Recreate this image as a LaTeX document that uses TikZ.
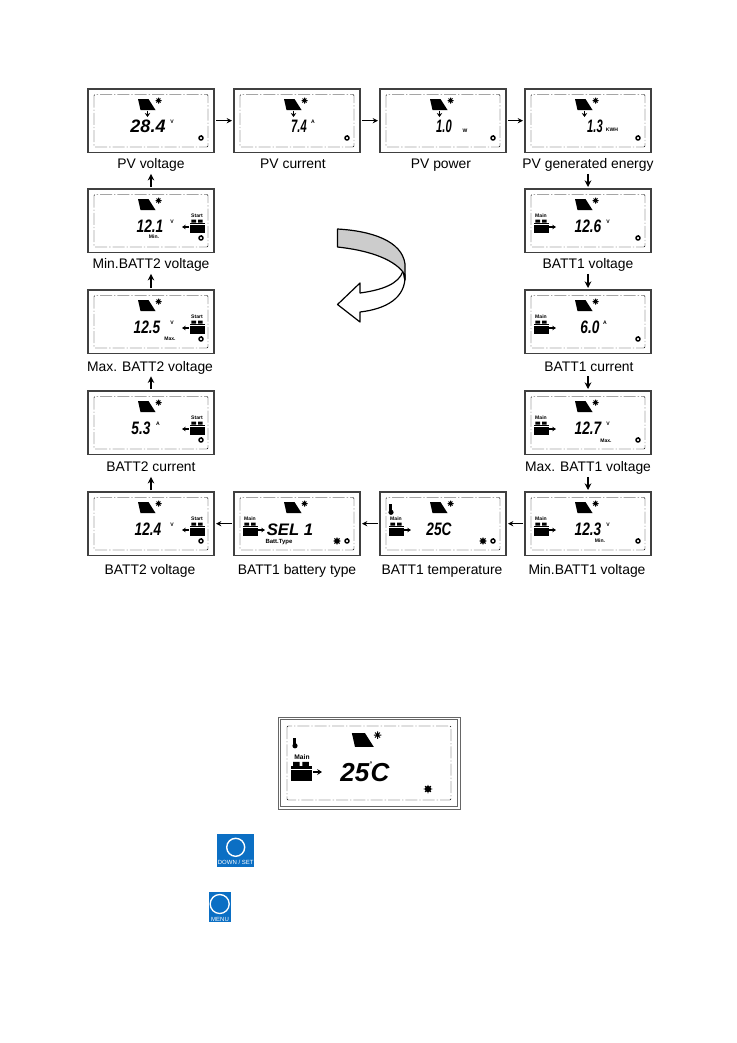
\documentclass[tikz,border=0pt]{standalone}
\usepackage{fontspec}
\setmainfont{Liberation Sans}
\newfontfamily\lcdmid{Liberation Sans}[FakeStretch=.76]
\newfontfamily\lcdthin{Liberation Sans}[FakeStretch=.62]
\usetikzlibrary{arrows.meta}
\definecolor{btnblue}{HTML}{0B6FC4}
\definecolor{lcdedge}{gray}{0.25}
\definecolor{bandgray}{gray}{0.8}
\tikzset{
  lcdbox/.style={draw=lcdedge,line width=1.25pt,minimum width=94.5pt,minimum height=47.5pt,inner sep=0,outer sep=0,anchor=north west},
  lcdframe/.style={draw=black,line width=.35pt,rounded corners=.8pt,dash pattern=on 9pt off 1.5pt on 1pt off 1.5pt},
  caption/.style={font=\fontsize{10.4}{12}\selectfont,inner sep=0,outer sep=0,anchor=base,text height=8pt,text depth=2.5pt},
  reading/.style={font=\fontsize{13.5}{14}\selectfont\bfseries\itshape,inner sep=0,anchor=center},
  readmid/.style={font=\fontsize{13.5}{14}\selectfont\lcdmid\bfseries\itshape,inner sep=0,anchor=center},
  readthin/.style={font=\fontsize{13.5}{14}\selectfont\lcdthin\bfseries\itshape,inner sep=0,anchor=center},
  unit/.style={font=\fontsize{3.8}{4}\selectfont\bfseries,inner sep=0,anchor=center},
  tag/.style={font=\fontsize{3.8}{4}\selectfont\bfseries,inner sep=0,anchor=center},
  flow/.style={-{Stealth[length=5pt,width=5pt]},line width=.95pt,shorten >=1.5pt,shorten <=1.5pt},
  flowh/.style={-{Stealth[length=4pt,width=4pt]},line width=.85pt,shorten >=1.5pt,shorten <=1.5pt},
  pics/panel/.style={code={
    \fill (-8.5,-5.5) -- (2,-5.5) -- (9,5.5) -- (-6,5.5) -- cycle;
    \draw[line width=.75pt] (12,-7) -- (12,-1) (9,-4) -- (15,-4) (10,-6) -- (14,-2) (10,-2) -- (14,-6);
  }},
  pics/downtick/.style={code={
    \draw[-{Stealth[length=3pt,width=4pt]},line width=.8pt] (0,-3.5) -- (0,3);
  }},
  pics/loadmark/.style={code={
    \draw[line width=1.1pt] (0,0) circle (2);
    \draw[line width=.6pt] (0,-2.9) -- (0,-2);
  }},
  pics/gearmark/.style={code={
    \fill (0,0) circle (2.8);
    \draw[line width=.6pt] (-3.7,0) -- (3.7,0) (0,-3.7) -- (0,3.7) (-2.6,-2.6) -- (2.6,2.6) (-2.6,2.6) -- (2.6,-2.6);
  }},
  pics/therm/.style={code={
    \fill (0,2.8) circle (2.6);
    \fill (-1.9,-5.5) rectangle (1.3,2.5);
  }},
  pics/cell/.style={code={
    \fill (-7.5,-3.5) rectangle (7.5,7);
    \fill (-5.7,-6.5) rectangle (-1,-3.5) (1,-6.5) rectangle (5.7,-3.5);
    \fill[white] (-7.5,-1.6) rectangle (7.5,-.8);
  }}
}
\newcommand{\lcd}[4]{%
  \node[lcdbox] (#1) at (#2,#3) {};
  \begin{scope}[shift={(#2,#3)}]
    \draw[lcdframe] (6,5.5) rectangle (120,58);
    \pic at (58.5,15.5) {panel};
    \pic at (113,49) {loadmark};
    #4
  \end{scope}}
\newcommand{\mainbatt}[1]{%
  \node[tag] (#1t) at (16,27) {Main};
  \pic at (16,37) {cell};
  \draw[-{Stealth[length=2.8pt,width=3.4pt]},line width=.8pt] (24,38) -- (31,38);}
\newcommand{\startbatt}[1]{%
  \node[tag] (#1t) at (109,27) {Start};
  \pic at (109,37) {cell};
  \draw[-{Stealth[length=2.8pt,width=3.4pt]},line width=.8pt] (101,38) -- (94,38);}
\begin{document}
\begin{tikzpicture}[x=.75pt,y=-.75pt]
\useasboundingbox[fill=white] (0,0) rectangle (737,1043);

% top row
\lcd{a}{88}{89}{\pic at (59.5,25) {downtick};
  \node[reading] (ar) at (60,37.5) {28.4}; \node[unit] (au) at (84,33) {V};}
\lcd{b}{234}{89}{\pic at (59.5,25) {downtick};
  \node[readthin] (br) at (65,37.5) {7.4}; \node[unit] (bu) at (79,33) {A};}
\lcd{c}{380}{89}{\pic at (59.5,25) {downtick};
  \node[readthin] (cr) at (64,37.5) {1.0}; \node[unit] (cu) at (85,42) {W};}
\lcd{d}{525}{89}{\pic at (59.5,25) {downtick};
  \node[readthin] (dr) at (70,37.5) {1.3}; \node[unit] (du) at (87,41) {KWH};}
% left column
\lcd{l1}{88}{189}{\node[readmid] (l1r) at (62,37.5) {12.1}; \node[unit] (l1u) at (84,33) {V};
  \node[tag] (l1m) at (66,48) {Min.}; \startbatt{l1}}
\lcd{l2}{88}{290}{\node[readmid] (l2r) at (59,37.5) {12.5}; \node[unit] (l2u) at (84,33) {V};
  \node[tag] (l2m) at (82,49) {Max.}; \startbatt{l2}}
\lcd{l3}{88}{391}{\node[readmid] (l3r) at (53,37.5) {5.3}; \node[unit] (l3u) at (70,33) {A}; \startbatt{l3}}
\lcd{l4}{88}{492}{\node[readmid] (l4r) at (60,37.5) {12.4}; \node[unit] (l4u) at (84,33) {V}; \startbatt{l4}}
% right column
\lcd{r1}{525}{189}{\mainbatt{r1}\node[readmid] (r1r) at (63,37.5) {12.6}; \node[unit] (r1u) at (83,33) {V};}
\lcd{r2}{525}{290}{\mainbatt{r2}\node[readmid] (r2r) at (65,37.5) {6.0}; \node[unit] (r2u) at (80,33) {A};}
\lcd{r3}{525}{391}{\mainbatt{r3}\node[readmid] (r3r) at (63,37.5) {12.7}; \node[unit] (r3u) at (83,33) {V};
  \node[tag] (r3m) at (81,50) {Max.};}
\lcd{r4}{525}{492}{\mainbatt{r4}\node[readmid] (r4r) at (63,37.5) {12.3}; \node[unit] (r4u) at (83,33) {V};
  \node[tag] (r4m) at (75,49) {Min.};}
% bottom row
\lcd{t}{380}{492}{\mainbatt{t}\pic at (11,17.5) {therm};
  \node[readmid] (tr) at (59,37.5) {25C}; \pic at (103,49) {gearmark};}
\lcd{s}{234}{492}{\mainbatt{s}
  \node[reading,font=\fontsize{12.5}{14}\selectfont\bfseries\itshape] (sr) at (56,37.5) {SEL 1}; \node[tag,font=\fontsize{4.5}{5}\selectfont\bfseries] (sm) at (45,50) {Batt.Type}; \pic at (103,49) {gearmark};}

% captions
\node[caption] (ca) at (151,168.5) {PV voltage};
\node[caption] (cb) at (293,168.5) {PV current};
\node[caption] (cc) at (441,168.5) {PV power};
\node[caption] (cd) at (588,168.5) {PV generated energy};
\node[caption] (cl1) at (151,268.5) {Min.BATT2 voltage};
\node[caption] (cl2) at (150,371) {Max. BATT2 voltage};
\node[caption] (cl3) at (151,471.5) {BATT2 current};
\node[caption] (cl4) at (150,574) {BATT2 voltage};
\node[caption] (cr1) at (588,268.5) {BATT1 voltage};
\node[caption] (cr2) at (589,371) {BATT1 current};
\node[caption] (cr3) at (588,471.5) {Max. BATT1 voltage};
\node[caption] (cr4) at (587,574) {Min.BATT1 voltage};
\node[caption] (ct) at (442,574) {BATT1 temperature};
\node[caption] (cs) at (297,574) {BATT1 battery type};

% connectors
\draw[flowh] (a) -- (b);
\draw[flowh] (b) -- (c);
\draw[flowh] (c) -- (d);
\draw[flow] (cd.south -| r1.north) -- (r1.north);
\draw[flow] (cr1.south -| r2.north) -- (r2.north);
\draw[flow] (cr2.south -| r3.north) -- (r3.north);
\draw[flow] (cr3.south -| r4.north) -- (r4.north);
\draw[flowh] (r4) -- (t);
\draw[flowh] (t) -- (s);
\draw[flowh] (s) -- (l4);
\draw[flow] (l4.north) -- (l4.north |- cl3.south);
\draw[flow] (l3.north) -- (l3.north |- cl2.south);
\draw[flow] (l2.north) -- (l2.north |- cl1.south);
\draw[flow] (l1.north) -- (l1.north |- ca.south);

% curved arrow
\draw[fill=white,line width=.9pt,line join=round] (403,271) .. controls (399,284) and (382,290) .. (360,293) -- (360,283) -- (337.5,304.5) -- (360,322) -- (360,312) .. controls (386,309) and (406,298) .. (405,275) -- cycle;
\draw[fill=bandgray,line width=.9pt,line join=round] (337.5,229) .. controls (372,231) and (402,241) .. (405,264) -- (405,280) .. controls (404,278) and (404,274) .. (403,272) .. controls (392,258) and (366,250) .. (337.5,247) -- cycle;

% large display
\node[draw=black!60,line width=.6pt,minimum width=136.5pt,minimum height=69pt,inner sep=0,outer sep=0,anchor=north west] (big) at (278,717) {};
\node[draw=black!60,line width=.6pt,minimum width=133pt,minimum height=65.5pt,inner sep=0,outer sep=0,anchor=north west] (bigi) at (280.3,719.3) {};
\draw[lcdframe] (287,726) rectangle (451,800);
\begin{scope}[shift={(362.5,740)},scale=1.25,transform shape]
  \pic[transform shape] at (0,0) {panel};
\end{scope}
\pic at (295,743) {therm};
\node[tag,font=\fontsize{5}{6}\selectfont\bfseries] (bigm) at (302,757) {Main};
\begin{scope}[shift={(301,771)},scale=1.4,transform shape]
  \pic[transform shape] at (0,0) {cell};
\end{scope}
\draw[-{Stealth[length=3.6pt,width=4.4pt]},line width=1pt] (313,772) -- (322,772);
\node[reading,font=\fontsize{19.5}{20}\selectfont\bfseries\itshape] (bigr) at (365,772) {25\raisebox{1.05ex}{\fontsize{5}{5}\selectfont °}\kern-1pt C};
\begin{scope}[shift={(428,789)},scale=1.15,transform shape]
  \pic[transform shape] at (0,0) {gearmark};
\end{scope}

% buttons
\node[fill=btnblue,minimum width=27.5pt,minimum height=24.75pt,inner sep=0,outer sep=0,anchor=north west] (downbtn) at (217,834) {};
\draw[white,line width=1.05pt] (235.7,847.3) circle (9);
\node[font=\fontsize{4.5}{5}\selectfont,text=white,inner sep=0] (downtxt) at (235.7,862.5) {DOWN / SET};
\node[fill=btnblue,minimum width=16.5pt,minimum height=22.5pt,inner sep=0,outer sep=0,anchor=north west] (menubtn) at (209,892) {};
\draw[white,line width=1pt] (219.7,904) circle (9.5);
\node[font=\fontsize{4.5}{5}\selectfont,text=white,inner sep=0] (menutxt) at (220,919) {MENU};
\end{tikzpicture}
\end{document}
